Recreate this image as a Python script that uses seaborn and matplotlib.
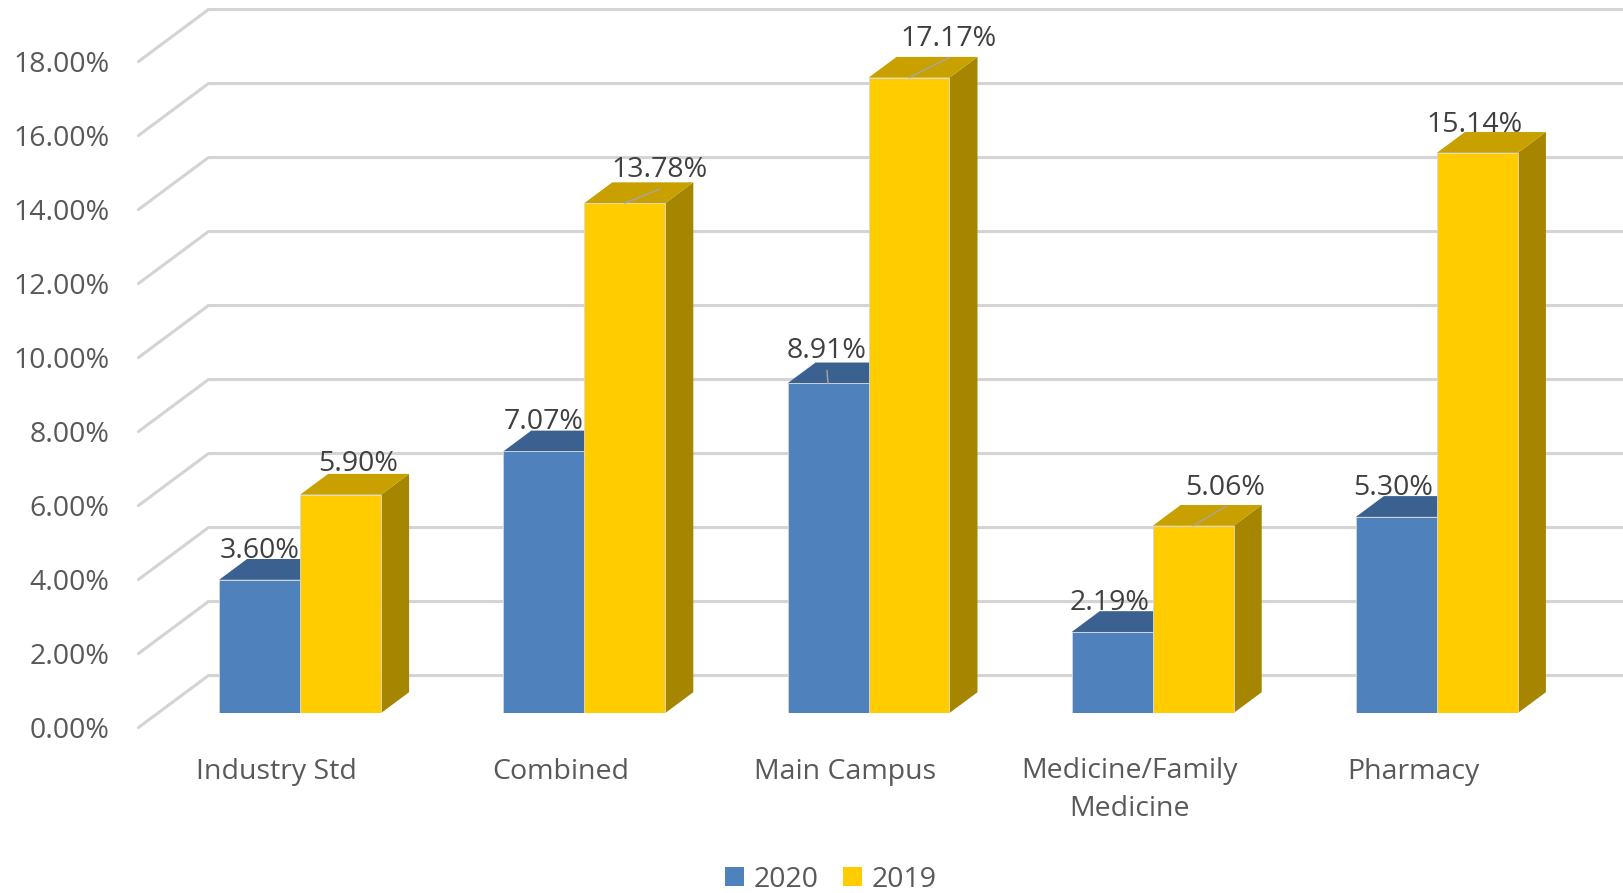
import matplotlib
matplotlib.use("Agg")
import matplotlib.pyplot as plt
from matplotlib.patches import Polygon, Patch
import numpy as np
import pandas as pd
import seaborn as sns

# ---- data -------------------------------------------------------------
categories = ["Industry Std", "Combined", "Main Campus",
              "Medicine/Family\nMedicine", "Pharmacy"]
series_names = ["2020", "2019"]
values_2020 = [3.60, 7.07, 8.91, 2.19, 5.30]
values_2019 = [5.90, 13.78, 17.17, 5.06, 15.14]
y_ticks = [0, 2, 4, 6, 8, 10, 12, 14, 16, 18]

# ---- style ------------------------------------------------------------
front_colors = {"2020": "#4f81bd", "2019": "#ffcc00"}
top_colors = {"2020": "#3b6190", "2019": "#c8a100"}
side_colors = {"2020": "#30507a", "2019": "#a68500"}
grid_color = "#d4d4d4"
tick_color = "#595959"
label_color = "#404040"
FS = 20.5

# label nudges (pixels) and whether a leader line is drawn
label_nudge = {"2020": [(0, 0), (0, 0), (-1, 3), (-3, 0), (-3, 0)],
               "2019": [(18, 2), (35, 4), (40, 10), (32, 9), (-3, -1)]}
label_leader = {"2020": [False, False, True, False, False],
                "2019": [False, True, True, True, False]}

sns.set_theme(style="white")
plt.rcParams["font.family"] = ["Open Sans", "DejaVu Sans"]

W, H = 1623, 893
fig = plt.figure(figsize=(W / 100, H / 100), dpi=100)
ax_left, ax_bottom, ax_w, ax_h = 158, 180, 1421, 666
ax = fig.add_axes([ax_left / W, ax_bottom / H, ax_w / W, ax_h / H])

df = pd.DataFrame({
    "category": categories * 2,
    "year": [series_names[0]] * len(categories) + [series_names[1]] * len(categories),
    "value": values_2020 + values_2019,
})

sns.barplot(data=df, x="category", y="value", hue="year",
            hue_order=series_names, palette=front_colors, saturation=1,
            width=0.57, errorbar=None, legend=False, ax=ax,
            edgecolor="#d8d8d8", linewidth=0.6, zorder=3)

XMIN, XMAX, YMIN, YMAX = -0.5, 4.5, 0, 18
ax.set_xlim(XMIN, XMAX)
ax.set_ylim(YMIN, YMAX)
ax.set_axis_off()

# 3-D depth vector (pixels) converted to data units
ux = (XMAX - XMIN) / ax_w
uy = (YMAX - YMIN) / ax_h
DEPTH_PX = (70, 52)
ddx, ddy = DEPTH_PX[0] * ux, DEPTH_PX[1] * uy
D_FACE = 0.28      # depth of the bar front faces
BAR_DEPTH = 0.40   # depth of each bar


def at_depth(x, y, d):
    return x + (d - D_FACE) * ddx, y + (d - D_FACE) * ddy


# side-wall and back-wall gridlines
for t in y_ticks:
    x0, y0 = at_depth(XMIN, t, 0)
    x1, y1 = at_depth(XMIN, t, 1)
    ax.plot([x0, x1, XMAX + 1], [y0, y1, y1], color=grid_color, lw=2.2,
            solid_joinstyle="miter", clip_on=False, zorder=0.5)
    ax.annotate(f"{t:.2f}%", xy=(x0, y0), xytext=(-29, -10),
                textcoords="offset pixels", ha="right", va="baseline",
                fontsize=FS, color=tick_color, annotation_clip=False)

# category labels along the front edge of the floor
LINE_PX = 37
for i, cat in enumerate(categories):
    x0, y0 = at_depth(i, 0, 0)
    n_extra = cat.count("\n")
    ax.annotate(cat, xy=(x0, y0), xytext=(-4, -51 - LINE_PX * n_extra),
                textcoords="offset pixels", ha="center", va="baseline",
                fontsize=FS, color=tick_color, linespacing=1.47,
                annotation_clip=False)

# top and side faces, data labels
bdx, bdy = BAR_DEPTH * ddx, BAR_DEPTH * ddy
for name, container in zip(series_names, ax.containers):
    for j, bar in enumerate(container.patches):
        bx, bw, bh = bar.get_x(), bar.get_width(), bar.get_height()
        xr = bx + bw
        top = Polygon([(bx, bh), (xr, bh), (xr + bdx, bh + bdy), (bx + bdx, bh + bdy)],
                      closed=True, facecolor=top_colors[name], edgecolor="none",
                      zorder=2, clip_on=False)
        side = Polygon([(xr, 0), (xr, bh), (xr + bdx, bh + bdy), (xr + bdx, bdy)],
                       closed=True, facecolor=side_colors[name], edgecolor="none",
                       zorder=2, clip_on=False)
        ax.add_patch(side)
        ax.add_patch(top)
        xc = bx + bw / 2
        ndx, ndy = label_nudge[name][j]
        ly = 32 + ndy
        ax.annotate(f"{bh:.2f}%", xy=(xc, bh), xytext=(ndx, ly - 10),
                    textcoords="offset pixels", ha="center", va="baseline",
                    fontsize=FS, color=label_color, zorder=5,
                    annotation_clip=False)
        if label_leader[name][j]:
            ax.annotate("", xy=(xc, bh), xytext=(ndx, ly - 22),
                        textcoords="offset pixels",
                        arrowprops=dict(arrowstyle="-", color="#a6a6a6", lw=1,
                                        shrinkA=0, shrinkB=0),
                        zorder=4, annotation_clip=False)

handles = [Patch(facecolor=front_colors[n], edgecolor="none") for n in series_names]
fig.legend(handles, series_names, loc="center", bbox_to_anchor=(0.512, 0.015),
           ncol=2, frameon=False, handlelength=0.65, handleheight=0.65,
           handletextpad=0.35, columnspacing=0.85, fontsize=FS,
           labelcolor=tick_color)

fig.savefig("out.png", dpi=100, facecolor="white")
